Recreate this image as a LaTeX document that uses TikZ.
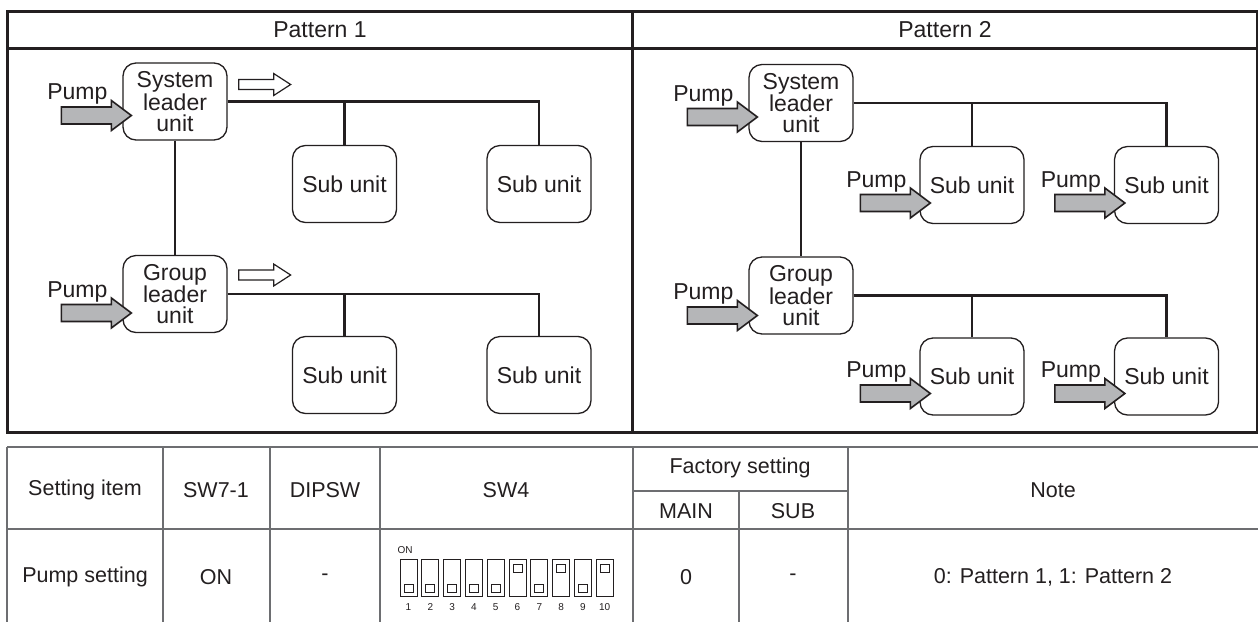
\documentclass[tikz,border=0pt]{standalone}
\usepackage{fontspec}
\setmainfont{Liberation Sans}
\usetikzlibrary{calc,positioning}
\definecolor{ink}{HTML}{231F20}
\definecolor{pumpgray}{HTML}{B5B6B8}
\definecolor{rulegray}{HTML}{6D6E71}
\newcommand\unitfont{\fontsize{23}{21}\selectfont}
\newcommand\tabfont{\fontsize{21.5}{24}\selectfont}
\newcommand\dipfont{\fontsize{10}{12}\selectfont}
\tikzset{
  unitbox/.style={draw=ink,line width=1.3,rounded corners=13,fill=white,minimum width=104,
    minimum height=77,inner sep=0,align=center,font=\unitfont,text=ink},
  bus/.style={draw=ink,line width=2.6},
  frameline/.style={draw=ink,line width=3},
  tabline/.style={draw=rulegray,line width=1.4},
  cell/.style={font=\tabfont,text=ink},
  pumpin/.pic={
    \draw[draw=ink,line width=1.6,fill=pumpgray,line join=miter]
      (-70,-8.5) -- (-20,-8.5) -- (-20,-15) -- (0,0) -- (-20,15) -- (-20,8.5) -- (-70,8.5) -- cycle;
    \node[font=\unitfont,text=ink,anchor=base] (-lab) at (-54,-16) {Pump};
  },
  flowmark/.pic={
    \draw[draw=ink,line width=1.2,fill=white]
      (0,-5) -- (35,-5) -- (35,-11) -- (52,0) -- (35,11) -- (35,5) -- (0,5) -- cycle;
  }
}
\begin{document}
\begin{tikzpicture}[x=1pt,y=-1pt]
  \useasboundingbox (0,0) rectangle (1258,622);
  \fill[white] (0,0) rectangle (1258,622);
  \draw[frameline] (7,11) rectangle (1257,432);
  \draw[frameline] (7,48) -- (1257,48);
  \draw[frameline] (632,11) -- (632,432);
  \node[font=\unitfont,text=ink] (head1) at (320,30) {Pattern 1};
  \node[font=\unitfont,text=ink] (head2) at (945,30) {Pattern 2};

  \node[unitbox] (sl1) at (175,101.5) {System\\leader\\unit};
  \node[unitbox] (gl1) at (175,294) {Group\\leader\\unit};
  \node[unitbox] (s11) at (344.5,184) {Sub unit};
  \node[unitbox] (s12) at (539,184) {Sub unit};
  \node[unitbox] (s21) at (344.5,375) {Sub unit};
  \node[unitbox] (s22) at (539,375) {Sub unit};

  \node[unitbox] (sl2) at (801,103) {System\\leader\\unit};
  \node[unitbox] (gl2) at (801,295.5) {Group\\leader\\unit};
  \node[unitbox] (s13) at (972,185) {Sub unit};
  \node[unitbox] (s14) at (1166.5,185) {Sub unit};
  \node[unitbox] (s23) at (972,376.5) {Sub unit};
  \node[unitbox] (s24) at (1166.5,376.5) {Sub unit};

  \foreach \lead/\suba/\subb in {sl1/s11/s12, gl1/s21/s22, sl2/s13/s14, gl2/s23/s24} {
    \draw[bus] (\lead.east) -| (\subb.north);
    \draw[bus] (\suba.north) -- (\suba.north |- \lead.east);
  }
  \draw[bus] (sl1.south) -- (gl1.north);
  \draw[bus] (sl2.south) -- (gl2.north);

  \foreach \b/\dx/\dy in {sl1/9/14, gl1/9/19, sl2/9/14, gl2/9/20, s13/11/18, s14/11/18, s23/11/17, s24/11/17}
    \pic (p\b) at ($(\b.west)+(\dx,\dy)$) {pumpin};
  \pic (fsl1) at ($(sl1.east)+(11,-17)$) {flowmark};
  \pic (fgl1) at ($(gl1.east)+(11,-19)$) {flowmark};

  \draw[tabline] (7,447) -- (1258,447);
  \draw[tabline] (7,529) -- (1258,529);
  \draw[tabline] (633,491) -- (848,491);
  \foreach \xx in {7,163,270,380,633,848}
    \draw[tabline] (\xx,447) -- (\xx,622);
  \draw[tabline] (739,491) -- (739,622);

  \node[cell] (hitem) at (85,490) {Setting item};
  \node[cell] (hsw7) at (216,490) {SW7-1};
  \node[cell] (hdip) at (325,490) {DIPSW};
  \node[cell] (hsw4) at (506,490) {SW4};
  \node[cell] (hfac) at (740,468) {Factory setting};
  \node[cell] (hmain) at (686,511) {MAIN};
  \node[cell] (hsub) at (793,511) {SUB};
  \node[cell] (hnote) at (1053,490) {Note};
  \node[cell] (ritem) at (85,577) {Pump setting};
  \node[cell] (rsw7) at (216,577) {ON};
  \node[cell] (rdip) at (325,577) {-};
  \node[cell] (rmain) at (686,577) {0};
  \node[cell] (rsub) at (793,577) {-};
  \node[cell] (rnote) at (1053,577) {0: Pattern 1, 1: Pattern 2};

  \node[font=\dipfont,text=ink] (dipon) at (405,550) {ON};
  \foreach \i/\up in {1/0,2/0,3/0,4/0,5/0,6/1,7/0,8/1,9/0,10/1} {
    \pgfmathsetmacro\xx{400+(\i-1)*21.8}
    \pgfmathsetmacro\yy{\up==1 ? 564 : 584}
    \draw[draw=ink,line width=0.8] (\xx,559) rectangle ++(17,37);
    \draw[draw=ink,line width=0.8] (\xx+4,\yy) rectangle ++(9,8);
    \node[font=\dipfont,text=ink] (n\i) at (\xx+8.5,607) {\i};
  }
\end{tikzpicture}
\end{document}
